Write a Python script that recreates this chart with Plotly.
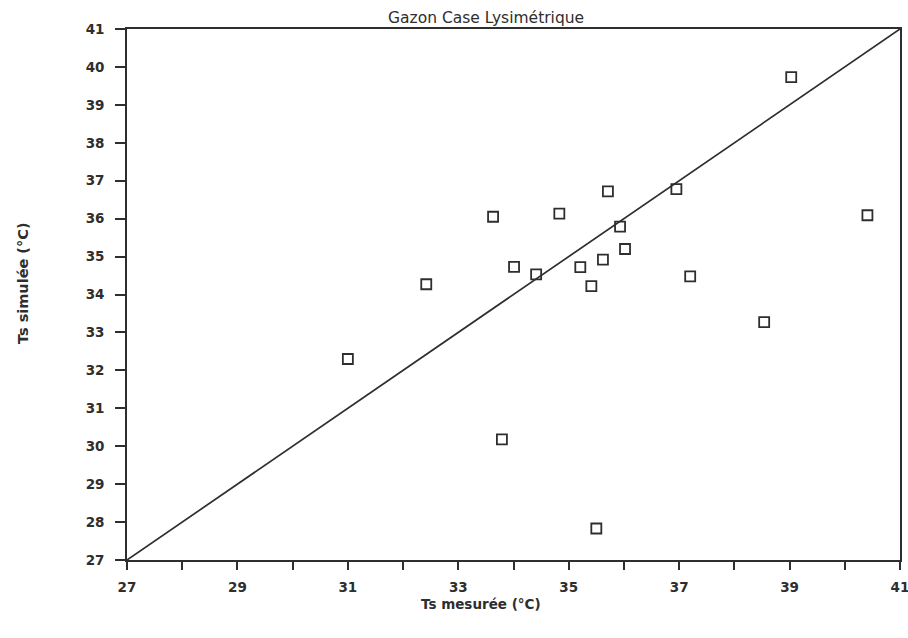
import plotly.graph_objects as go

# Measured vs simulated surface temperature (°C)
ts_mesuree = [31.0, 32.42, 33.63, 33.79, 34.01, 34.41, 34.83, 35.21, 35.41, 35.50,
              35.62, 35.71, 35.93, 36.02, 36.95, 37.20, 38.54, 39.03, 40.41]
ts_simulee = [32.3, 34.27, 36.05, 30.18, 34.73, 34.53, 36.13, 34.72, 34.22, 27.83,
              34.92, 36.72, 35.79, 35.20, 36.78, 34.48, 33.27, 39.73, 36.09]

# 1:1 reference line
ligne_x = [27, 41]
ligne_y = [27, 41]

x_ticks = list(range(27, 42))
x_labels = [str(v) if v % 2 == 1 else "" for v in x_ticks]
y_ticks = list(range(27, 42))

ink = "#2e2e2e"
tick_font = dict(family="DejaVu Sans", size=13.5, color=ink, weight="bold")

fig = go.Figure()
fig.add_trace(go.Scatter(
    x=ligne_x, y=ligne_y, mode="lines",
    line=dict(color=ink, width=1.7), hoverinfo="skip", showlegend=False,
))
fig.add_trace(go.Scatter(
    x=ts_mesuree, y=ts_simulee, mode="markers",
    marker=dict(symbol="square-open", size=10, color=ink, line=dict(width=1.8, color=ink)),
    showlegend=False,
))

fig.update_layout(
    width=908, height=638,
    margin=dict(l=127, r=8, t=29, b=78),
    paper_bgcolor="white", plot_bgcolor="white",
    xaxis=dict(
        range=[27, 41], tickvals=x_ticks, ticktext=x_labels,
        ticks="outside", ticklen=8, tickwidth=1.6, tickcolor=ink,
        showline=True, linecolor=ink, linewidth=1.7, mirror=True,
        showgrid=False, zeroline=False, tickfont=tick_font,
        ticklabelstandoff=6, automargin=False, ticklabeloverflow="allow",
    ),
    yaxis=dict(
        range=[27, 41], tickvals=y_ticks,
        ticks="outside", ticklen=10, tickwidth=1.6, tickcolor=ink,
        showline=True, linecolor=ink, linewidth=1.7, mirror=True,
        showgrid=False, zeroline=False, tickfont=tick_font,
        ticklabelstandoff=8, automargin=False, ticklabeloverflow="allow",
    ),
    annotations=[
        dict(text="Gazon Case Lysimétrique", x=486, y=18,
             font=dict(family="DejaVu Sans", size=15.5, color=ink)),
        dict(text="Ts mesurée (°C)", x=481, y=604,
             font=dict(family="DejaVu Sans", size=13.5, color=ink, weight="bold")),
        dict(text="Ts simulée (°C)", x=23, y=283, textangle=-90,
             font=dict(family="DejaVu Sans", size=14.5, color=ink, weight="bold")),
    ],
)

# Annotation positions above are in pixels from the top-left; convert to paper fractions
pw = 908 - 127 - 8
ph = 638 - 29 - 78
for a in fig.layout.annotations:
    a.x = (a.x - 127) / pw
    a.y = (638 - a.y - 78) / ph
    a.xref = "paper"
    a.yref = "paper"
    a.xanchor = "center"
    a.yanchor = "middle"
    a.showarrow = False

fig.write_html("out.html")
